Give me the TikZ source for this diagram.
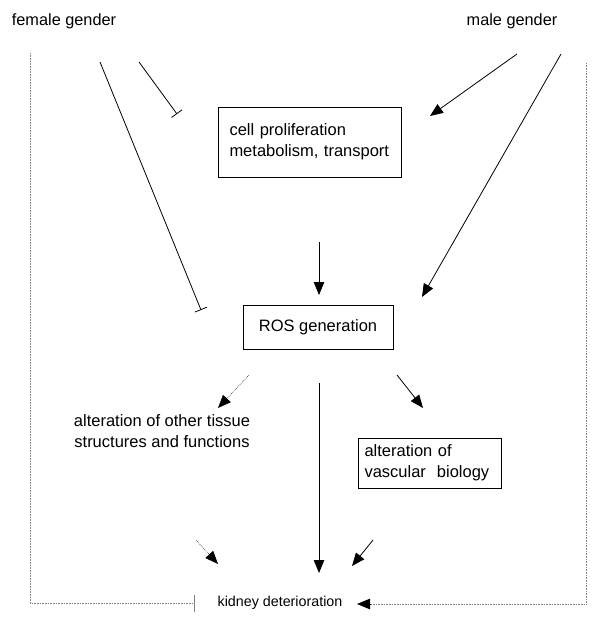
\documentclass[tikz,border=0pt]{standalone}
\usepackage{fontspec}
\setmainfont{Liberation Sans}
\usetikzlibrary{arrows.meta,positioning}
\tikzset{
	boite/.style={draw,thick,align=left,inner ysep=4pt,font=\fontsize{16.5}{21}\selectfont},
	fl/.style={thick,-{Triangle[length=13pt,width=10.5pt,color=black]}},
	inh/.style={thick,-{Bar[width=13pt]}},
	pointille/.style={densely dotted,gray,semithick},
	genre/.style={font=\fontsize{16.3}{18}\selectfont},
	every node/.style={font=\fontsize{14.3}{17.5}\selectfont}
}
\begin{document}
\begin{tikzpicture}[x=1pt,y=-1pt]
\useasboundingbox (0,0) rectangle (600,617);

%Textes et boites
\node[genre] (fem) at (64,21) {female gender};
\node[genre] (male) at (512,21) {male gender};
\node[boite,text width=160pt,inner xsep=11.5pt,minimum height=70pt] (cell) at (309.5,142) {cell proliferation\\metabolism, transport};
\node[boite,minimum width=150pt,minimum height=44pt,align=center] (ros) at (318,327) {ROS generation};
\node[align=center,font=\fontsize{16.5}{21}\selectfont] (other) at (162,431) {alteration of other tissue\\structures and functions};
\node[boite,text width=130pt,inner xsep=6.5pt,minimum height=50pt] (vasc) at (429.5,463) {alteration of\\vascular\ \ biology};
\node (kid) at (280,603) {kidney deterioration};

%Extremites des fleches
\coordinate (f1) at (139,62);  \coordinate (f1b) at (177,114);
\coordinate (f2) at (100,62);  \coordinate (f2b) at (201,310);
\coordinate (m1) at (517,54);  \coordinate (m1b) at (430,116);
\coordinate (m2) at (561,54);  \coordinate (m2b) at (422,297);
\coordinate (c1) at (319,242); \coordinate (c1b) at (319,295);
\coordinate (r1) at (249,375); \coordinate (r1b) at (218,408);
\coordinate (r2) at (397,375); \coordinate (r2b) at (423,408);
\coordinate (r3) at (319,383); \coordinate (r3b) at (319,573);
\coordinate (o1) at (196,540); \coordinate (o1b) at (218,564);
\coordinate (v1) at (373,540); \coordinate (v1b) at (352,566);

%Genre
\draw[inh] (f1) -- (f1b);
\draw[inh] (f2) -- (f2b);
\draw[fl] (m1) -- (m1b);
\draw[fl] (m2) -- (m2b);

%ROS
\draw[fl] (c1) -- (c1b);
\draw[fl,pointille,black!70] (r1) -- (r1b);
\draw[fl] (r2) -- (r2b);
\draw[fl] (r3) -- (r3b);
\draw[fl,pointille,black!70] (o1) -- (o1b);
\draw[fl] (v1) -- (v1b);

%Retours en pointille
\draw[pointille,-{Bar[width=17pt,sep=0pt]}] (30,53) -- (30,603) -- ([xshift=-19pt]kid.west |- 0,603);
\draw[pointille] (586,63) -- (586,604) -- (370,604);
\draw[fl] (370,604) -- (357,604);
\end{tikzpicture}
\end{document}
